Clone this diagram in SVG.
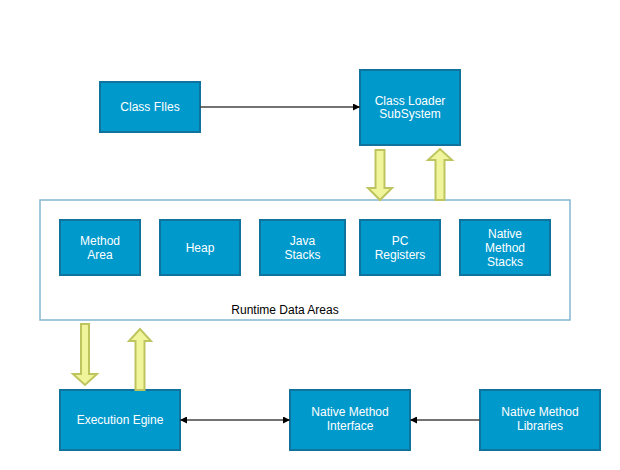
<svg xmlns="http://www.w3.org/2000/svg" width="620" height="470" viewBox="0 0 620 470">
<style>
.n{fill:#0099CC;stroke:#10739E;stroke-width:2}
.t{fill:#FFFFFF;font-family:"Liberation Sans",Arial,sans-serif;font-size:12px;text-anchor:middle}
.lbl{fill:#000000;font-family:"Liberation Sans",Arial,sans-serif;font-size:12px;text-anchor:middle}
.c{fill:none;stroke:#444444;stroke-width:1.5}
.fa{fill:#F0F59B;stroke:#BEC55E;stroke-width:2;stroke-linejoin:miter}
</style>
<defs>
<marker id="ah" viewBox="0 0 10 10" refX="10" refY="5" markerWidth="7" markerHeight="7" markerUnits="userSpaceOnUse" orient="auto-start-reverse">
<path d="M0,0 L10,5 L0,10 Z" fill="#000000"/>
</marker>
</defs>
<rect width="620" height="470" fill="#FFFFFF"/>
<g id="runtime">
<rect x="40" y="200" width="530" height="120" fill="#FFFFFF" stroke="#82B6CF" stroke-width="1.5"/>
<text class="lbl" x="285" y="314">Runtime Data Areas</text>
</g>
<g id="class-files"><rect class="n" x="100" y="82" width="100" height="50"/><text class="t" x="150" y="111">Class FIles</text></g>
<g id="class-loader"><rect class="n" x="360" y="70" width="100" height="75"/><text class="t" x="410" y="105">Class Loader</text><text class="t" x="410" y="118">SubSystem</text></g>
<g id="method-area"><rect class="n" x="60" y="220" width="80" height="55"/><text class="t" x="100" y="245">Method</text><text class="t" x="100" y="259">Area</text></g>
<g id="heap"><rect class="n" x="160" y="220" width="80" height="55"/><text class="t" x="200" y="252">Heap</text></g>
<g id="java-stacks"><rect class="n" x="260" y="220" width="85" height="55"/><text class="t" x="302.5" y="245">Java</text><text class="t" x="302.5" y="259">Stacks</text></g>
<g id="pc-registers"><rect class="n" x="360" y="220" width="80" height="55"/><text class="t" x="400" y="245">PC</text><text class="t" x="400" y="259">Registers</text></g>
<g id="native-method-stacks"><rect class="n" x="460" y="220" width="90" height="55"/><text class="t" x="505" y="238">Native</text><text class="t" x="505" y="252">Method</text><text class="t" x="505" y="266">Stacks</text></g>
<g id="execution-engine"><rect class="n" x="60" y="390" width="120" height="60"/><text class="t" x="120" y="424">Execution Egine</text></g>
<g id="native-method-interface"><rect class="n" x="290" y="390" width="120" height="60"/><text class="t" x="350" y="416">Native Method</text><text class="t" x="350" y="430">Interface</text></g>
<g id="native-method-libraries"><rect class="n" x="480" y="390" width="120" height="60"/><text class="t" x="540" y="416">Native Method</text><text class="t" x="540" y="430">Libraries</text></g>
<g id="connectors">
<line class="c" x1="200" y1="107" x2="360" y2="107" marker-end="url(#ah)"/>
<line class="c" x1="180" y1="420" x2="290" y2="420" marker-start="url(#ah)" marker-end="url(#ah)"/>
<line class="c" x1="480" y1="420" x2="410" y2="420" marker-end="url(#ah)"/>
<path class="fa" d="M375.5,150 L384.5,150 L384.5,188 L392,188 L380,200 L368,188 L375.5,188 Z"/>
<path class="fa" d="M435.5,200 L444.5,200 L444.5,160 L452,160 L440,149 L428,160 L435.5,160 Z"/>
<path class="fa" d="M81,324 L89,324 L89,374 L97,374 L85,385 L73,374 L81,374 Z"/>
<path class="fa" d="M135.5,390 L144.5,390 L144.5,341 L151,341 L140,329 L129,341 L135.5,341 Z"/>
</g>
</svg>
